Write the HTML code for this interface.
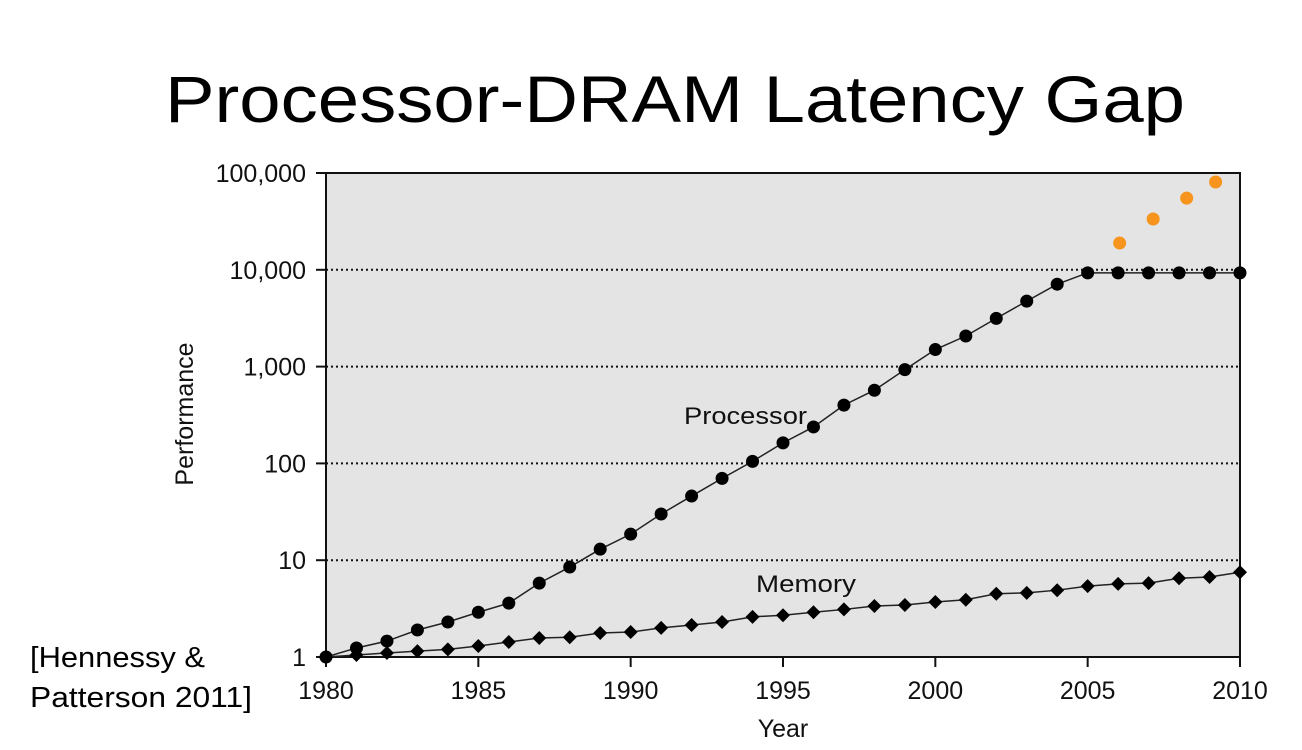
<!DOCTYPE html>
<html><head><meta charset="utf-8"><style>
html,body{margin:0;padding:0;background:#fff;}
svg{display:block;font-family:"Liberation Sans",sans-serif;}
</style></head><body>
<svg id="chart" width="1302" height="750">
<text x="675" y="122" font-size="66" text-anchor="middle" textLength="1020" lengthAdjust="spacingAndGlyphs" fill="#000">Processor-DRAM Latency Gap</text>
<rect x="326" y="173" width="914" height="484" fill="#e4e4e4"/>
<g id="grid"></g>
<g id="axes"></g>
<g id="series"></g>
<text x="684" y="424" font-size="24" textLength="123" lengthAdjust="spacingAndGlyphs" fill="#111">Processor</text>
<text x="756" y="592" font-size="24" textLength="100" lengthAdjust="spacingAndGlyphs" fill="#111">Memory</text>
<text x="783" y="737" font-size="25" text-anchor="middle" fill="#111">Year</text>
<text x="193" y="414" font-size="25" text-anchor="middle" fill="#111" transform="rotate(-90 193 414)">Performance</text>
<text x="30" y="667" font-size="29" textLength="175" lengthAdjust="spacingAndGlyphs" fill="#000">[Hennessy &amp;</text>
<text x="30" y="707" font-size="29" textLength="222" lengthAdjust="spacingAndGlyphs" fill="#000">Patterson 2011]</text>
</svg>
<script>
const years = [1980,1981,1982,1983,1984,1985,1986,1987,1988,1989,1990,1991,1992,1993,1994,1995,1996,1997,1998,1999,2000,2001,2002,2003,2004,2005,2006,2007,2008,2009,2010];
const processor = [1,1.24,1.46,1.9,2.3,2.9,3.6,5.8,8.5,13,18.6,30,46,70,105,163,238,400,570,930,1500,2070,3150,4750,7100,9300,9300,9300,9300,9300,9300];
const memory = [1,1.05,1.1,1.15,1.2,1.3,1.43,1.57,1.6,1.77,1.81,2.0,2.14,2.3,2.6,2.7,2.9,3.1,3.36,3.45,3.7,3.9,4.5,4.6,4.9,5.4,5.7,5.8,6.5,6.7,7.5];
const projYears = [2006.05,2007.15,2008.25,2009.2];
const projected = [18900,33500,55000,80700];
const yTicks = [1,10,100,1000,10000,100000];
const yTickLabels = ["1","10","100","1,000","10,000","100,000"];
const xTicks = [1980,1985,1990,1995,2000,2005,2010];

const X0=326,X1=1240,Y0=657,Y1=173;
const xs = y => X0 + (y-1980)/30*(X1-X0);
const ys = v => Y0 - Math.log10(v)/5*(Y0-Y1);
const NS="http://www.w3.org/2000/svg";
function mk(tag, attrs, parent){const e=document.createElementNS(NS,tag);for(const k in attrs)e.setAttribute(k,attrs[k]);parent.appendChild(e);return e;}
const grid=document.getElementById('grid'), axes=document.getElementById('axes'), series=document.getElementById('series');

yTicks.forEach((t,i)=>{
  const y=ys(t);
  if(i>0 && i<yTicks.length-1){
    const g=mk('line',{x1:X0,x2:X1,y1:y,y2:y,stroke:'#111','stroke-width':2,'stroke-dasharray':'2,3'},grid);
    
    
  }
  const tk=mk('line',{x1:X0-10,x2:X0,y1:y,y2:y,stroke:'#111','stroke-width':2},axes);
  
  
  const tl=mk('text',{x:X0-20,y:y+9,'font-size':25,'text-anchor':'end',fill:'#111'},axes);
  tl.textContent=yTickLabels[i];
  
  
});
xTicks.forEach(t=>{
  const x=xs(t);
  const tk=mk('line',{x1:x,x2:x,y1:Y0,y2:Y0+10,stroke:'#111','stroke-width':2},axes);
  
  
  const tl=mk('text',{x:x,y:Y0+42,'font-size':25,'text-anchor':'middle',fill:'#111'},axes);
  tl.textContent=t;
  
  
});
const frame=mk('rect',{x:X0,y:Y1,width:X1-X0,height:Y0-Y1,fill:'none',stroke:'#111','stroke-width':2},axes);



const pl=mk('polyline',{points:years.map((y,i)=>xs(y)+','+ys(processor[i])).join(' '),fill:'none',stroke:'#222','stroke-width':1.5},series);


const ml=mk('polyline',{points:years.map((y,i)=>xs(y)+','+ys(memory[i])).join(' '),fill:'none',stroke:'#222','stroke-width':1.5},series);


years.forEach((y,i)=>{
  const c=mk('circle',{cx:xs(y),cy:ys(processor[i]),r:6.5,fill:'#000'},series);
  
  
  const cx=xs(y), cy=ys(memory[i]), r=7;
  const d=mk('polygon',{points:`${cx},${cy-r} ${cx+r},${cy} ${cx},${cy+r} ${cx-r},${cy}`,fill:'#000'},series);
  
  
});
projYears.forEach((y,i)=>{
  const c=mk('circle',{cx:xs(y),cy:ys(projected[i]),r:6.5,fill:'#f7941d'},series);
  
  
});
</script>
</body></html>
